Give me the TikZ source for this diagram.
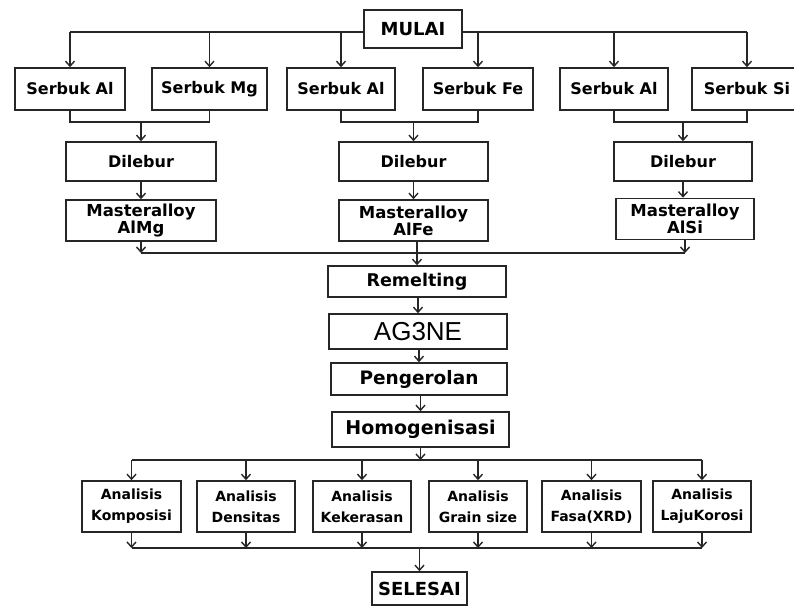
\documentclass[tikz,border=0pt]{standalone}
\usepackage{fontspec}
\setmainfont{DejaVu Sans}
\newfontfamily\arialf{Liberation Sans}
\usetikzlibrary{arrows.meta}
\definecolor{ink}{HTML}{262626}
\begin{document}
\begin{tikzpicture}[x=1pt,y=-1pt,
  box/.style={draw=ink, line width=1.6pt, inner sep=0pt, align=center, text=black},
  top/.style={box, minimum height=42pt, font=\bfseries\fontsize{16}{18}\selectfont},
  mid/.style={box, font=\bfseries\fontsize{16}{17}\selectfont},
  ma/.style={box, minimum height=41pt, font=\bfseries\fontsize{16.5}{14}\selectfont},
  an/.style={box, minimum width=98pt, minimum height=51pt, font=\bfseries\fontsize{14}{21}\selectfont},
  ln/.style={draw=ink, line width=1.4pt},
  arr/.style={ln, -{Straight Barb[length=5pt,width=9pt,line width=1.4pt]}},
]
\useasboundingbox (0,0) rectangle (794,608);
\clip (0,0) rectangle (794,608);

% start
\node[mid, minimum width=98pt, minimum height=38pt, font=\bfseries\fontsize{18}{19}\selectfont] (mulai) at (413,29) {MULAI};

% powders
\node[top, minimum width=110pt] (sa1) at (70,89) {Serbuk Al};
\node[top, minimum width=115pt] (sm)  at (209.5,89) {Serbuk Mg};
\node[top, minimum width=108pt] (sa2) at (341,89) {Serbuk Al};
\node[top, minimum width=110pt] (sf)  at (478,89) {Serbuk Fe};
\node[top, minimum width=108pt] (sa3) at (614,89) {Serbuk Al};
\node[top, minimum width=110pt] (ss)  at (747,89) {Serbuk Si};

% melting
\node[mid, minimum width=150pt, minimum height=39pt] (dil1) at (141,161.5) {Dilebur};
\node[mid, minimum width=149pt, minimum height=39pt] (dil2) at (413.5,161.5) {Dilebur};
\node[mid, minimum width=138pt, minimum height=39pt] (dil3) at (683,161.5) {Dilebur};

% master alloys
\node[ma, minimum width=150pt] (ma1) at (141,220.5) {Masteralloy\\AlMg};
\node[ma, minimum width=149pt] (ma2) at (413.5,220.5) {Masteralloy\\AlFe};
\node[ma, minimum width=138pt] (ma3) at (685,219) {Masteralloy\\AlSi};

% main line
\node[mid, minimum width=178pt, minimum height=31pt, font=\bfseries\fontsize{17.5}{18}\selectfont] (rem) at (417,281.5) {Remelting};
\node[box, minimum width=178pt, minimum height=35pt, font=\arialf\fontsize{26}{28}\selectfont] (ag) at (418,331.5) {AG3NE};
\node[mid, minimum width=176pt, minimum height=32pt, font=\bfseries\fontsize{18.5}{19}\selectfont] (pen) at (419,379) {Pengerolan};
\node[mid, minimum width=177pt, minimum height=35pt, font=\bfseries\fontsize{19}{20}\selectfont] (hom) at (420.5,429.5) {Homogenisasi};

% analyses
\node[an, minimum width=99pt] (a1) at (131.5,506.5) {Analisis\\Komposisi};
\node[an] (a2) at (246,506.5) {Analisis\\Densitas};
\node[an] (a3) at (362,506.5) {Analisis\\Kekerasan};
\node[an] (a4) at (478,506.5) {Analisis\\Grain size};
\node[an, minimum width=99pt] (a5) at (591.5,506.5) {Analisis\\Fasa(XRD)};
\node[an] (a6) at (702,506.5) {Analisis\\LajuKorosi};

\node[mid, minimum width=95pt, minimum height=33pt, font=\bfseries\fontsize{18}{19}\selectfont] (sel) at (419.5,588.5) {SELESAI};

% connectors: start to powders
\draw[ln] (mulai.west |- 0,32) -- (sa1.north |- 0,32);
\draw[ln] (mulai.east |- 0,32) -- (ss.north |- 0,32);
\foreach \n in {sa1,sm,sa2,sf,sa3,ss} \draw[arr] (\n.north |- 0,32) -- (\n.north);

% merge powders
\coordinate (j1) at (141,122);
\coordinate (j2) at (413.5,122);
\coordinate (j3) at (683,122);
\draw[ln] (sa1.south) |- (j1) -| (sm.south);
\draw[ln] (sa2.south) |- (j2) -| (sf.south);
\draw[ln] (sa3.south) |- (j3) -| (ss.south);
\draw[arr] (j1) -- (dil1.north);
\draw[arr] (j2) -- (dil2.north);
\draw[arr] (j3) -- (dil3.north);

\draw[arr] (dil1) -- (ma1);
\draw[arr] (dil2) -- (ma2);
\draw[arr] (dil3.south) -- (dil3.south |- ma3.north);

% merge master alloys
\draw[ln] (ma1.south |- 0,253) -- (ma3.south |- 0,253);
\draw[arr] (ma1.south) -- (ma1.south |- 0,253);
\draw[arr] (ma3.south) -- (ma3.south |- 0,253);
\draw[arr] (rem.north |- ma2.south) -- (rem.north);

% main sequence
\draw[arr] (ag.north |- rem.south) -- (ag.north);
\draw[arr] (pen.north |- ag.south) -- (pen.north);
\draw[arr] (hom.north |- pen.south) -- (hom.north);

% split to analyses
\draw[ln] (a1.north |- 0,460) -- (a6.north |- 0,460);
\draw[arr] (hom.south) -- (hom.south |- 0,460);
\foreach \n in {a1,a2,a3,a4,a5,a6} \draw[arr] (\n.north |- 0,460) -- (\n.north);

% merge analyses
\draw[ln] (a1.south |- 0,548) -- (a6.south |- 0,548);
\foreach \n in {a1,a2,a3,a4,a5,a6} \draw[arr] (\n.south) -- (\n.south |- 0,548);
\draw[arr] (sel.north |- 0,548) -- (sel.north);
\end{tikzpicture}
\end{document}
